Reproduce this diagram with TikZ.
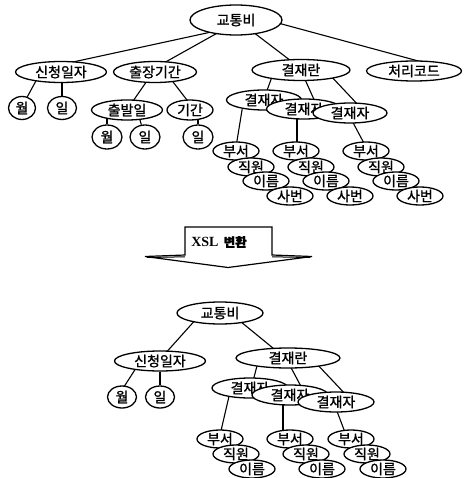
\documentclass[tikz,border=0pt]{standalone}
\usepackage{fontspec}
\usetikzlibrary{shapes.geometric,backgrounds,calc}
\newfontfamily\kr{Noto Sans CJK KR}[FakeBold=1.2]
\newfontfamily\krb{Noto Sans CJK KR}[FakeBold=2]
\newfontfamily\tnr{Liberation Serif}
\begin{document}
\begin{tikzpicture}[x=1pt,y=-1pt,
  el/.style={ellipse,draw,fill=white,line width=1.3pt,inner sep=0pt,font=\kr\fontsize{14}{14}\selectfont},
  big/.style={el,minimum width=#1,minimum height=21pt},
  sm/.style={el,minimum width=46pt,minimum height=18pt},
  dot/.style={el,minimum width=#1,minimum height=23pt},
  ed/.style={line width=1.1pt}]
\useasboundingbox (0,0) rectangle (465,478);
% ---------- top tree ----------
\node[big=92pt,minimum height=30pt] (A) at (236,20) {교통비};
\node[big=91pt] (B1) at (61,72) {신청일자};
\node[big=83pt] (B2) at (155,72) {출장기간};
\node[big=98pt] (B3) at (301,70) {결재란};
\node[big=95pt,minimum height=20pt] (B4) at (414,71) {처리코드};
\node[dot=27pt] (C1) at (22,108) {월};
\node[dot=29pt] (C2) at (62,108) {일};
\node[big=71pt,minimum height=20pt] (D1) at (127,110) {출발일};
\node[big=46pt,minimum height=20pt] (D2) at (190,110) {기간};
\node[dot=30pt,minimum height=24pt] (E1) at (107,137) {월};
\node[dot=30pt,minimum height=24pt] (E2) at (145,137) {일};
\node[dot=30pt,minimum height=24pt] (E3) at (198,137) {일};
\node[big=75pt,minimum height=20pt] (F1) at (264,100) {결재자};
\node[big=75pt,minimum height=20pt] (F2) at (304,109) {결재자};
\node[big=74pt,minimum height=20pt] (F3) at (350,113) {결재자};
\foreach \g/\x in {1/236,2/296,3/366}{
  \node[sm] (G\g1) at (\x,151) {부서};
  \node[sm] (G\g2) at (\x+15,167) {직원};
  \node[sm] (G\g3) at (\x+30,181) {이름};
  \node[sm] (G\g4) at (\x+54,196) {사번};
}
% ---------- arrow ----------
\node[font=\bfseries\fontsize{14}{14}\selectfont,inner sep=0pt] (T) at (219,242) {{\tnr XSL} {\krb\fontsize{12.5}{12.5}\selectfont 변환}};
\draw[line width=1.2pt,line join=miter] (185,255) -- (185,227) -- (272,227) -- (272,255) -- (312,256.5) -- (228,267.5) -- (145,256.5) -- cycle;
\draw[line width=1pt] (147,257.5) -- (185,256.8) (272,256.8) -- (310,257.5);
% ---------- bottom tree ----------
\node[big=86pt,minimum height=22pt] (H) at (220,313) {교통비};
\node[big=91pt,minimum height=20pt] (I1) at (160,361) {신청일자};
\node[big=104pt,minimum height=20pt] (I2) at (288,358) {결재란};
\node[dot=29pt,minimum height=22pt] (J1) at (122,397) {월};
\node[dot=29pt,minimum height=22pt] (J2) at (160,397) {일};
\node[big=76pt,minimum height=20pt] (K1) at (250,388) {결재자};
\node[big=76pt,minimum height=20pt] (K2) at (290,395) {결재자};
\node[big=76pt,minimum height=20pt] (K3) at (336,402) {결재자};
\foreach \g/\x in {1/220,2/290,3/351}{
  \node[sm] (L\g1) at (\x,439) {부서};
  \node[sm] (L\g2) at (\x+16,454) {직원};
  \node[sm] (L\g3) at (\x+32,469) {이름};
}
% ---------- edges ----------
\begin{pgfonlayer}{background}
\draw[ed] ($(A)+(-20,11)$) -- ($(B1)+(12,-10)$);
\draw[ed] ($(A)+(-15,11)$) -- ($(B2)+(7,-8)$);
\draw[ed] ($(A)+(17,12)$) -- ($(B3)+(-6,-6)$);
\draw[ed] ($(A)+(42,3)$) -- ($(B4)+(8,-9)$);
\draw[ed] ($(B1)+(-24,7)$) -- ($(C1)+(3,-7)$);
\draw[ed] ($(B1)+(1,0)$) -- ($(C2)+(0,-4)$);
\draw[ed] ($(B2)+(-6,6)$) -- ($(D1)+(4,-6)$);
\draw[ed] ($(B2)+(15,6)$) -- ($(D2)+(0,-6)$);
\draw[ed] ($(D1)+(-20,0)$) -- (E1);
\draw[ed] ($(D1)+(10,0)$) -- (E2);
\draw[ed] ($(D2)+(8,0)$) -- (E3);
\draw[ed] ($(B3)+(-28,4)$) -- ($(F1)+(1,-4)$);
\draw[ed] ($(B3)+(2,5)$) -- ($(F2)+(12,-5)$);
\draw[ed] ($(B3)+(28,4)$) -- ($(F3)+(11,-5)$);
\draw[ed] ($(F1)+(-21,4)$) -- ($(G11)+(0,-4)$);
\draw[ed] ($(F2)+(-7,0)$) -- ($(G21)+(1,0)$);
\draw[ed] ($(F3)+(0,4)$) -- ($(G31)+(0,-4)$);
\draw[ed] ($(H)+(-22,4)$) -- ($(I1)+(3,-5)$);
\draw[ed] ($(H)+(15,4)$) -- ($(I2)+(-9,-5)$);
\draw[ed] ($(I1)+(-22,4)$) -- ($(J1)+(-2,-4)$);
\draw[ed] (I1) -- (J2);
\draw[ed] ($(I2)+(-30,4)$) -- ($(K1)+(2,-3)$);
\draw[ed] ($(I2)+(0,4)$) -- ($(K2)+(14,-3)$);
\draw[ed] ($(I2)+(27,4)$) -- ($(K3)+(12,-5)$);
\draw[ed] ($(K1)+(-20,4)$) -- ($(L11)+(0,-4)$);
\draw[ed] ($(K2)+(-7,0)$) -- ($(L21)+(-7,0)$);
\draw[ed] ($(K3)+(-1,4)$) -- ($(L31)+(-5,-4)$);
\end{pgfonlayer}
\end{tikzpicture}
\end{document}
